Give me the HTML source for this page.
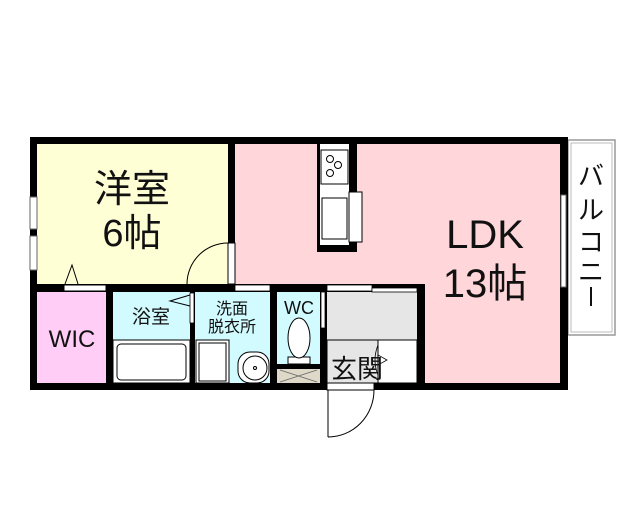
<!DOCTYPE html>
<html><head><meta charset="utf-8"><style>
html,body{margin:0;padding:0;background:#fff;width:640px;height:512px;overflow:hidden}
svg{display:block}
text{font-family:"Liberation Sans","Noto Sans CJK JP",sans-serif;fill:#111}
</style></head><body>
<svg width="640" height="512" viewBox="0 0 640 512" xmlns="http://www.w3.org/2000/svg">
<rect x="568" y="140" width="47" height="195" fill="#fff" stroke="#999" stroke-width="1.5"/>
<rect x="571" y="143" width="41" height="189" fill="none" stroke="#bbb" stroke-width="1"/>
<text x="591" y="185" font-size="26" text-anchor="middle">バ</text>
<text x="591" y="219" font-size="26" text-anchor="middle">ル</text>
<text x="591" y="251" font-size="26" text-anchor="middle">コ</text>
<text x="591" y="281" font-size="26" text-anchor="middle">ニ</text>
<line x1="591" y1="287" x2="591" y2="306" stroke="#111" stroke-width="2"/>
<rect x="30" y="137" width="538" height="253" fill="#000"/>
<rect x="37" y="144" width="191" height="140" fill="#ffffd6"/>
<rect x="235" y="144" width="325" height="140" fill="#ffd6d9"/>
<rect x="425" y="284" width="135" height="99" fill="#ffd6d9"/>
<rect x="37" y="292" width="69" height="91" fill="#ffcdf5"/>
<rect x="113" y="292" width="77" height="91" fill="#d2fbff"/>
<rect x="195" y="292" width="75" height="91" fill="#d2fbff"/>
<rect x="277" y="292" width="43" height="72" fill="#d2fbff"/>
<rect x="327" y="292" width="90" height="91" fill="#e6e6e6"/>
<rect x="228" y="243" width="7" height="41" fill="#fff" stroke="#000" stroke-width="1"/>
<path d="M187 284 A41 41 0 0 1 228 243" fill="none" stroke="#000" stroke-width="1"/>
<rect x="30" y="197" width="7" height="32" fill="#fff" stroke="#666" stroke-width="1"/>
<rect x="30" y="236" width="7" height="34" fill="#fff" stroke="#666" stroke-width="1"/>
<rect x="64" y="285" width="42" height="6" fill="#fff" stroke="#000" stroke-width="1"/>
<path d="M65 284 L72 265 L78 284" fill="none" stroke="#000" stroke-width="1"/>
<rect x="235" y="285" width="35" height="6" fill="#fff" stroke="#000" stroke-width="0.8"/>
<rect x="327" y="285" width="45" height="6" fill="#fff" stroke="#000" stroke-width="0.8"/>
<rect x="372" y="288" width="45" height="4" fill="#fff" stroke="#000" stroke-width="0.8"/>
<rect x="190" y="293" width="4" height="30" fill="#fff" stroke="#000" stroke-width="0.8"/>
<path d="M190 295 L170 301 L190 306" fill="none" stroke="#000" stroke-width="1"/>
<rect x="321" y="292" width="4" height="36" fill="#fff" stroke="#000" stroke-width="0.8"/>
<rect x="561" y="195" width="5" height="92" fill="#fff" stroke="#666" stroke-width="1"/>
<rect x="317" y="144" width="40" height="108" fill="#000"/>
<rect x="320" y="144" width="29" height="101" fill="#fff"/>
<rect x="321" y="150" width="27" height="34" fill="#fff" stroke="#000" stroke-width="1"/>
<circle cx="330" cy="159" r="3.5" fill="none" stroke="#000"/>
<circle cx="338" cy="165" r="3.5" fill="none" stroke="#000"/>
<circle cx="330" cy="173" r="3.5" fill="none" stroke="#000"/>
<rect x="322" y="198" width="25" height="41" fill="#fff" stroke="#000" stroke-width="1"/>
<rect x="349" y="192" width="13" height="50" fill="#fff" stroke="#000" stroke-width="1"/>
<rect x="113" y="340" width="77" height="43" fill="#fff" stroke="#000" stroke-width="1"/>
<rect x="117" y="344" width="69" height="36" rx="4" fill="#fff" stroke="#000" stroke-width="1"/>
<rect x="196" y="340" width="33" height="43" fill="#fff" stroke="#000" stroke-width="1"/>
<rect x="199" y="343" width="27" height="38" fill="#fff" stroke="#000" stroke-width="1"/>
<rect x="238" y="352" width="31" height="31" rx="12" fill="#fff" stroke="#000" stroke-width="1"/>
<circle cx="255" cy="368" r="12" fill="none" stroke="#000"/>
<circle cx="255" cy="368" r="1.5" fill="none" stroke="#000"/>
<rect x="288" y="357" width="22" height="7" fill="#fff" stroke="#000" stroke-width="1"/>
<ellipse cx="299" cy="338" rx="11" ry="20" fill="#fff" stroke="#000" stroke-width="1"/>
<rect x="277" y="369" width="43" height="14" fill="#ddd8c8"/>
<path d="M280 370 L317 382 M280 382 L317 370" stroke="#666" stroke-width="0.8"/>
<rect x="327" y="340" width="90" height="43" fill="#e6e6e6" stroke="#000" stroke-width="1"/>
<rect x="378" y="340" width="39" height="43" fill="#fff" stroke="#000" stroke-width="1"/>
<rect x="327" y="340" width="51" height="43" fill="#e6e6e6" stroke="#000" stroke-width="1"/>
<path d="M378 345 Q372 360 378 375" fill="none" stroke="#000" stroke-width="0.8"/>
<path d="M378 355 L387 360 L378 365" fill="none" stroke="#000" stroke-width="0.8"/>
<rect x="327" y="383" width="47" height="7" fill="#fff" stroke="#000" stroke-width="1"/>
<line x1="328" y1="390" x2="328" y2="437" stroke="#000" stroke-width="1"/>
<path d="M328 437 A46 47 0 0 0 374 390" fill="none" stroke="#000" stroke-width="1"/>
<text x="132" y="202" font-size="38" text-anchor="middle">洋室</text>
<text x="132" y="246" font-size="38" text-anchor="middle">6帖</text>
<text x="485" y="248" font-size="40" text-anchor="middle">LDK</text>
<text x="485" y="297" font-size="40" text-anchor="middle">13帖</text>
<text x="72" y="347" font-size="24" text-anchor="middle">WIC</text>
<text x="151" y="323" font-size="19" text-anchor="middle">浴室</text>
<text x="232" y="314" font-size="16" text-anchor="middle">洗面</text>
<text x="232" y="332" font-size="16" text-anchor="middle">脱衣所</text>
<text x="299" y="314" font-size="18" text-anchor="middle">WC</text>
<text x="357" y="378" font-size="26" text-anchor="middle">玄関</text>
</svg>
</body></html>
